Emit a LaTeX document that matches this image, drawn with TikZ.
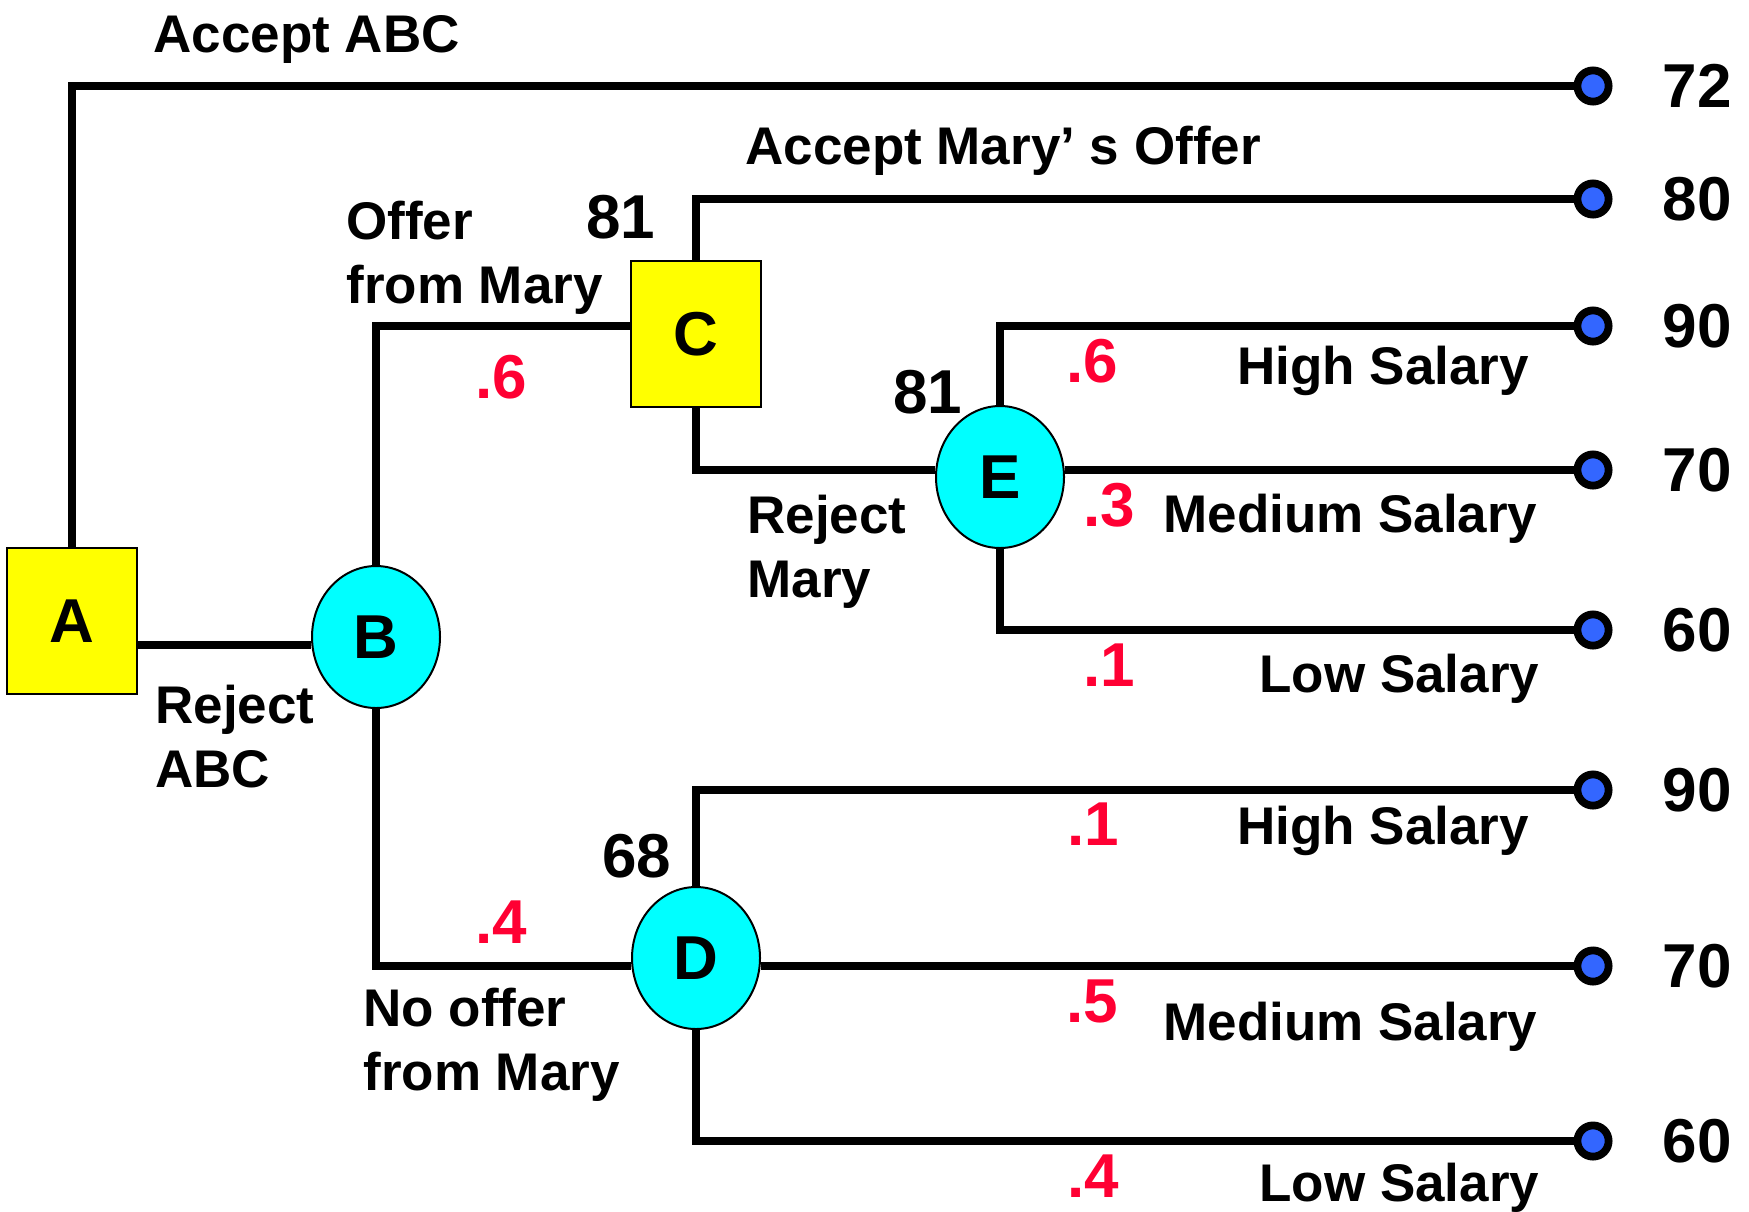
\documentclass[tikz,border=0pt]{standalone}
\usepackage{fontspec}
\setmainfont{Liberation Sans}
\usepackage{tikz}
\usetikzlibrary{shapes.geometric,positioning}

\definecolor{boxyellow}{RGB}{255,255,0}
\definecolor{ovalcyan}{RGB}{0,255,255}
\definecolor{leafblue}{RGB}{51,102,255}
\definecolor{probred}{RGB}{255,0,51}

\begin{document}
\begin{tikzpicture}[x=0.5pt, y=-0.5pt]
		\tikzstyle{decision} = [rectangle, draw, line width=1pt, fill=boxyellow, minimum width=65pt, minimum height=73pt, inner sep=0pt, font=\fontsize{31}{31}\selectfont\bfseries]
		\tikzstyle{chance} = [ellipse, draw, line width=1pt, fill=ovalcyan, minimum width=64pt, minimum height=71pt, inner sep=0pt, font=\fontsize{31}{31}\selectfont\bfseries]
		\tikzstyle{leaf} = [circle, draw, line width=3.9pt, fill=leafblue, minimum size=15.6pt, inner sep=0pt]
		\tikzstyle{branch} = [line width=3.6pt]
		\tikzstyle{edgetext} = [inner sep=0pt, align=left, font=\fontsize{26.5}{32}\selectfont\bfseries]
		\tikzstyle{prob} = [inner sep=0pt, anchor=base west, text=probred, font=\fontsize{31}{31}\selectfont\bfseries]
		\tikzstyle{rollback} = [inner sep=0pt, anchor=base west, font=\fontsize{31}{31}\selectfont\bfseries]
		\tikzstyle{payoff} = [inner sep=0pt, font=\fontsize{31}{31}\selectfont\bfseries]
		\useasboundingbox (0,0) rectangle (1749,1211);
		% decision and chance nodes
		\node[decision] (A) at (72, 621) {A};
		\node[chance] (B) at (376, 637) {B};
		\node[decision] (C) at (696, 334) {C};
		\node[chance] (D) at (696, 958) {D};
		\node[chance] (E) at (1000, 477) {E};
		% end points
		\foreach \name/\y in {t1/86, t2/199, t3/326, t4/470, t5/630, t6/790, t7/966, t8/1141}
		\node[leaf] (\name) at (1593, \y) {};
		\foreach \name/\val in {t1/72, t2/80, t3/90, t4/70, t5/60, t6/90, t7/70, t8/60}
		\node[payoff, right=25pt of \name] {\val};
		% branches
		\foreach \from/\to in {A.north/t1, C.north/t2, E.north/t3, E.south/t5, D.north/t6, D.south/t8}
		\draw[branch] (\from) |- (\to);
		\draw[branch] ([yshift=-12pt]A.east) -- ([yshift=-4pt]B.west);
		\draw[branch] (B.north) |- ([yshift=4pt]C.west);
		\draw[branch] (B.south) |- ([yshift=-4pt]D.west);
		\draw[branch] (C.south) |- ([yshift=3.5pt]E.west);
		\draw[branch] (E.east |- t4) -- (t4);
		\draw[branch] (D.east |- t7) -- (t7);
		% branch labels
		\node[edgetext, anchor=base west] (accabc) at (153, 52) {Accept ABC};
		\node[edgetext, anchor=base west] (accmary) at (745, 164) {Accept Mary’ s Offer};
		\node[edgetext, anchor=north west] (offer) at (346, 201) {Offer\\from Mary};
		\node[edgetext, anchor=north west] (rejabc) at (155, 685) {Reject\\ABC};
		\node[edgetext, anchor=north west] (nooffer) at (363, 988) {No offer\\from Mary};
		\node[edgetext, anchor=north west] (rejmary) at (747, 495) {Reject\\Mary};
		\node[edgetext, anchor=base west] (ehigh) at (1237, 384) {High Salary};
		\node[edgetext, anchor=base west] (emed) at (1163, 532) {Medium Salary};
		\node[edgetext, anchor=base west] (elow) at (1259, 692) {Low Salary};
		\node[edgetext, anchor=base west] (dhigh) at (1237, 844) {High Salary};
		\node[edgetext, anchor=base west] (dmed) at (1163, 1040) {Medium Salary};
		\node[edgetext, anchor=base west] (dlow) at (1259, 1201) {Low Salary};
		% probabilities
		\node[prob] (pbc) at (475, 398) {.6};
		\node[prob] (pbd) at (475, 943) {.4};
		\node[prob] (peh) at (1066, 382) {.6};
		\node[prob] (pem) at (1083, 526) {.3};
		\node[prob] (pel) at (1083, 686) {.1};
		\node[prob] (pdh) at (1067, 845) {.1};
		\node[prob] (pdm) at (1066, 1022) {.5};
		\node[prob] (pdl) at (1067, 1197) {.4};
		% expected values
		\node[rollback] (vc) at (586, 238) {81};
		\node[rollback] (ve) at (893, 413) {81};
		\node[rollback] (vd) at (602, 877) {68};
	\end{tikzpicture}
\end{document}
